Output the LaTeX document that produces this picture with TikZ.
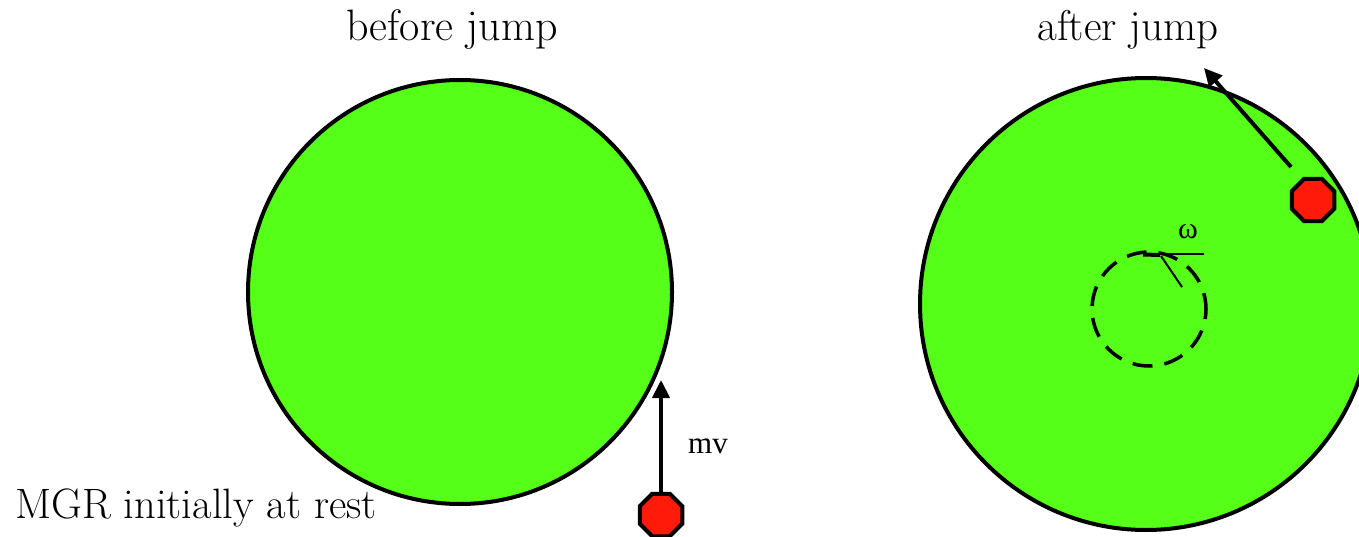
\documentclass[tikz,border=0pt]{standalone}
\usepackage{fontspec}
\newfontfamily\timesfont{Liberation Serif}
\usetikzlibrary{shapes.geometric,arrows.meta}
\definecolor{disc}{HTML}{55FF17}
\definecolor{stone}{HTML}{FF1A0A}
\tikzset{
  wheel/.style={draw=black,line width=4pt,fill=disc},
  mgr/.style={regular polygon,regular polygon sides=8,draw=black,line width=4pt,fill=stone,minimum size=46pt,inner sep=0pt},
  momentum/.style={line width=4pt,-{Triangle[length=18pt,width=17pt]}},
  title/.style={font=\fontsize{44}{52}\selectfont,inner sep=0pt},
}
\begin{document}
\begin{tikzpicture}[x=1pt,y=-1pt]
\useasboundingbox (0,0) rectangle (1359,537);
\clip (0,0) rectangle (1359,537);
% left
\node[circle,wheel,minimum size=424pt,inner sep=0pt] (d1) at (460,292) {};
\node[title] (t1) at (452,30) {before jump};
\node[mgr] (m1) at (661,515) {};
\coordinate (a1) at (661,380);
\draw[momentum] (m1.north) -- (a1);
\node[font=\timesfont\fontsize{31}{36}\selectfont,inner sep=0pt] (mv) at (708,446) {mv};
\node[font=\fontsize{42.5}{50}\selectfont,inner sep=0pt,anchor=base west] (rest) at (15,518) {MGR initially at rest};
% right
\node[circle,wheel,minimum size=452pt,inner sep=0pt] (d2) at (1146,304) {};
\node[title,font=\fontsize{43}{50}\selectfont] (t2) at (1128,30) {after jump};
\node[circle,draw=black,line width=3.5pt,dash pattern=on 20pt off 12pt,minimum size=114pt,inner sep=0pt,dash phase=4pt] (w) at (1149,309) {};
\coordinate (h1) at (1143,254);
\coordinate (h2) at (1204,254);
\coordinate (k1) at (1161,256);
\coordinate (k2) at (1182,287);
\draw[line width=4pt] (1143,254.5) -- (1160,255);
\draw[line width=2pt] (h1) -- (h2);
\draw[line width=2pt] (k1) -- (k2);
\node[font=\timesfont\fontsize{30}{34}\selectfont,inner sep=0pt] (om) at (1188,232) {ω};
\node[mgr] (m2) at (1313,200) {};
\coordinate (a2) at (1204,68);
\draw[momentum] (1291,167) -- (a2);
\end{tikzpicture}
\end{document}
